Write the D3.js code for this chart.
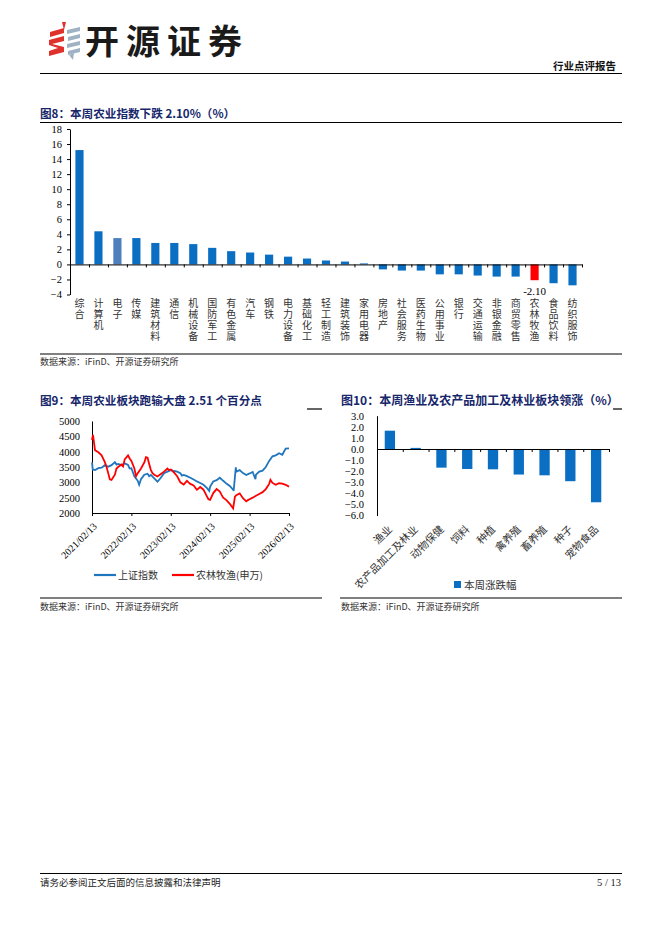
<!DOCTYPE html>
<html>
<head>
<meta charset="utf-8">
<script src="https://cdn.jsdelivr.net/npm/d3@7"></script>
<style>
  body { margin: 0; background: #fff; }
  svg { display: block; }
</style>
</head>
<body>
<div id="page"></div>
<script>
// Fig 8: weekly change by industry (%)
const industryNames = ['综合', '计算机', '电子', '传媒', '建筑材料', '通信', '机械设备', '国防军工', '有色金属', '汽车',
  '钢铁', '电力设备', '基础化工', '轻工制造', '建筑装饰', '家用电器', '房地产', '社会服务', '医药生物', '公用事业',
  '银行', '交通运输', '非银金融', '商贸零售', '农林牧渔', '食品饮料', '纺织服饰'];
const industryChange = [15.2, 4.4, 3.5, 3.5, 2.85, 2.85, 2.7, 2.2, 1.76, 1.58,
  1.3, 1.03, 0.78, 0.52, 0.38, 0.13, -0.66, -0.82, -0.82, -1.32,
  -1.32, -1.48, -1.62, -1.62, -2.10, -2.5, -2.78];
const industryTicks = [18, 16, 14, 12, 10, 8, 6, 4, 2, 0, -2, -4];

// Fig 9: SSE composite vs agriculture index
const szDates = ['2021-02-13', '2021-02-20', '2021-03-13', '2021-04-13', '2021-05-13', '2021-06-13', '2021-07-13', '2021-08-13',
  '2021-09-13', '2021-09-28', '2021-10-13', '2021-11-13', '2021-12-13', '2022-01-13', '2022-01-28', '2022-02-13', '2022-03-13',
  '2022-04-13', '2022-04-26', '2022-05-13', '2022-06-13', '2022-07-13', '2022-07-28', '2022-08-13', '2022-09-13', '2022-10-13',
  '2022-11-13', '2022-12-13', '2023-01-13', '2023-02-13', '2023-03-13', '2023-04-13', '2023-05-13', '2023-05-28', '2023-06-13',
  '2023-07-13', '2023-08-13', '2023-09-13', '2023-10-13', '2023-11-13', '2023-12-13', '2024-01-13', '2024-02-05', '2024-02-13',
  '2024-03-13', '2024-04-13', '2024-05-13', '2024-06-13', '2024-07-13', '2024-08-13', '2024-09-13', '2024-09-18', '2024-10-08',
  '2024-10-13', '2024-11-13', '2024-12-13', '2025-01-13', '2025-02-13', '2025-03-13', '2025-04-08', '2025-04-13', '2025-05-13',
  '2025-06-13', '2025-07-13', '2025-08-13', '2025-09-13', '2025-10-13', '2025-11-13', '2025-12-13', '2026-01-13', '2026-02-13'];
const szValues = [3650, 3420, 3400, 3460, 3480, 3560, 3510, 3560,
  3660, 3580, 3600, 3560, 3620, 3570, 3450, 3460, 3200,
  3050, 2920, 3100, 3250, 3280, 3200, 3240, 3130, 3020,
  3150, 3300, 3350, 3400, 3370, 3350, 3300, 3220, 3240,
  3200, 3150, 3090, 3030, 2980, 2920, 2820, 2720, 2860,
  3030, 3070, 3150, 3050, 2960, 2880, 2760, 2720, 3490,
  3350, 3400, 3300, 3240, 3290, 3340, 3100, 3250, 3350,
  3380, 3500, 3700, 3850, 3880, 3950, 3900, 4100, 4110];
const nlDates = ['2021-02-13', '2021-02-22', '2021-03-13', '2021-04-13', '2021-05-13', '2021-06-13', '2021-06-28', '2021-07-13',
  '2021-07-28', '2021-08-13', '2021-09-13', '2021-09-28', '2021-10-13', '2021-11-13', '2021-11-28', '2021-12-13', '2022-01-13',
  '2022-01-28', '2022-02-13', '2022-03-13', '2022-03-28', '2022-04-13', '2022-05-13', '2022-06-13', '2022-06-28', '2022-07-13',
  '2022-07-28', '2022-08-13', '2022-08-28', '2022-09-13', '2022-10-13', '2022-11-13', '2022-12-13', '2023-01-13', '2023-01-28',
  '2023-02-13', '2023-03-13', '2023-04-13', '2023-04-28', '2023-05-13', '2023-06-13', '2023-07-13', '2023-07-28', '2023-08-13',
  '2023-09-13', '2023-10-13', '2023-10-28', '2023-11-13', '2023-12-13', '2024-01-13', '2024-01-28', '2024-02-13', '2024-03-13',
  '2024-04-13', '2024-05-13', '2024-05-28', '2024-06-13', '2024-07-13', '2024-08-13', '2024-09-13', '2024-09-30', '2024-10-13',
  '2024-11-13', '2024-12-13', '2025-01-13', '2025-01-28', '2025-02-13', '2025-03-13', '2025-04-13', '2025-05-13', '2025-06-13',
  '2025-07-13', '2025-08-13', '2025-08-25', '2025-09-13', '2025-10-13', '2025-11-13', '2025-12-13', '2026-01-13', '2026-02-13'];
const nlValues = [4380, 4550, 4050, 3980, 3880, 3650, 3500, 3300,
  3100, 3080, 3250, 3450, 3500, 3580, 3520, 3750, 3880,
  3780, 3700, 3450, 3200, 3300, 3450, 3650, 3820, 3800,
  3600, 3400, 3300, 3250, 3190, 3270, 3350, 3450, 3400,
  3420, 3330, 3200, 3100, 3000, 2930, 3050, 3000, 2950,
  2900, 2760, 2800, 2850, 2760, 2550, 2450, 2430, 2650,
  2780, 2700, 2600, 2500, 2420, 2300, 2150, 2530, 2580,
  2640, 2480, 2380, 2420, 2450, 2500, 2560, 2620, 2680,
  2780, 2950, 3080, 2980, 2920, 2970, 2960, 2920, 2860];
const yearTicks = ['2021-02-13', '2022-02-13', '2023-02-13', '2024-02-13', '2025-02-13', '2026-02-13'];
const indexTicks = [2000, 2500, 3000, 3500, 4000, 4500, 5000];

// Fig 10: sub-sector weekly change (%)
const subNames = ['渔业', '农产品加工及林业', '动物保健', '饲料', '种植', '禽养殖', '畜养殖', '种子', '宠物食品'];
const subChange = [1.65, 0.1, -1.68, -1.8, -1.83, -2.3, -2.37, -2.9, -4.8];
const subTicks = [3, 2, 1, 0, -1, -2, -3, -4, -5, -6];

const CJK = '"Noto Sans CJK SC", sans-serif';
const SERIF = '"Liberation Serif", "Times New Roman", serif';
const NAVY = '#17276b';
const BAR = '#0a6ec2';

const svg = d3.select('#page').append('svg')
  .attr('width', 662)
  .attr('height', 936);

// ---------- page header ----------
const logo = svg.append('g');
// red zigzag
logo.append('path')
  .attr('d', 'M62,22 L66,22 L64,30 Z M50,32 L64,28 L64,33 L50,37 Z M49,40 L64,36 L64,41 L52,44 L64,47 L64,52 L49,56 L49,51 L58,48 L49,45 Z')
  .attr('fill', '#e0322c');
// grey-blue stripes
[27, 34, 41, 48].forEach((y, i) => {
  logo.append('path')
    .attr('d', `M${67 + (i % 2)},${y + 3} L${80},${y} L${80},${y + 4} L${67 + (i % 2)},${y + 7} Z`)
    .attr('fill', '#9fb3c4');
});
logo.append('path').attr('d', 'M69,55 L74,53 L73,60 Z').attr('fill', '#9fb3c4');

svg.append('text')
  .attr('x', 85).attr('y', 54)
  .style('font-family', CJK).style('font-weight', 'bold').style('font-size', '34px')
  .style('letter-spacing', '7px')
  .attr('fill', '#1a1a1a')
  .text('开源证券');

svg.append('text')
  .attr('x', 616).attr('y', 70)
  .attr('text-anchor', 'end')
  .style('font-family', CJK).style('font-weight', 'bold').style('font-size', '10.5px')
  .attr('fill', '#111')
  .text('行业点评报告');

svg.append('line').attr('x1', 40).attr('x2', 622).attr('y1', 73.5).attr('y2', 73.5)
  .attr('stroke', '#000').attr('stroke-width', 1.2);

// ---------- footer ----------
svg.append('line').attr('x1', 40).attr('x2', 622).attr('y1', 873.5).attr('y2', 873.5)
  .attr('stroke', '#000').attr('stroke-width', 1);
svg.append('text')
  .attr('x', 40).attr('y', 886)
  .style('font-family', CJK).style('font-size', '9.5px').attr('fill', '#222')
  .text('请务必参阅正文后面的信息披露和法律声明');
svg.append('text')
  .attr('x', 621).attr('y', 886).attr('text-anchor', 'end')
  .style('font-family', SERIF).style('font-size', '10.5px').attr('fill', '#222')
  .text('5 / 13');

// helper for chart titles and sources
function title(x, y, txt, size) {
  svg.append('text')
    .attr('x', x).attr('y', y)
    .style('font-family', CJK).style('font-weight', 'bold').style('font-size', size + 'px')
    .attr('fill', NAVY)
    .text(txt);
}
function source(x, y) {
  svg.append('text')
    .attr('x', x).attr('y', y)
    .style('font-family', CJK).style('font-size', '9px').attr('fill', '#333')
    .text('数据来源：iFinD、开源证券研究所');
}

// ================= Fig 8 =================
title(40, 118, '图8：本周农业指数下跌 2.10%（%）', 11.6);
svg.append('line').attr('x1', 40).attr('x2', 622).attr('y1', 122.5).attr('y2', 122.5)
  .attr('stroke', '#000').attr('stroke-width', 1.2);
svg.append('line').attr('x1', 40).attr('x2', 622).attr('y1', 354).attr('y2', 354)
  .attr('stroke', '#000').attr('stroke-width', 1);
source(40, 365);

const x8 = d3.scaleBand().domain(industryNames).range([70, 582]).paddingInner(0.57).paddingOuter(0.285);
const y8 = d3.scaleLinear().domain([-4, 18]).range([294.5, 129]);

const g8 = svg.append('g');
g8.selectAll('rect.bar')
  .data(industryNames)
  .enter()
  .append('rect')
  .attr('class', 'bar')
  .attr('x', d => x8(d))
  .attr('width', x8.bandwidth())
  .attr('y', (d, i) => y8(Math.max(0, industryChange[i])))
  .attr('height', (d, i) => Math.abs(y8(industryChange[i]) - y8(0)))
  .attr('fill', d => d === '农林牧渔' ? '#ff0000' : d === '电子' ? '#4d7fbe' : BAR);

// y axis
const yAxis8 = g8.append('g')
  .attr('transform', 'translate(70,0)')
  .call(d3.axisLeft(y8).tickValues(industryTicks).tickSize(3).tickSizeOuter(0).tickFormat(d3.format('d')));
yAxis8.select('.domain').attr('stroke', '#000');
yAxis8.selectAll('text').style('font-family', SERIF).style('font-size', '10.5px').attr('fill', '#000').attr('x', -8);

// zero line with category ticks
const xAxis8 = g8.append('g')
  .attr('transform', `translate(0,${y8(0)})`)
  .call(d3.axisBottom(d3.scaleLinear().domain([0, industryNames.length]).range([70, 582]))
    .tickValues(d3.range(industryNames.length + 1)).tickSize(3).tickSizeOuter(0).tickFormat(''));
xAxis8.select('.domain').attr('stroke', '#000');

// vertical category labels (one char per line)
g8.selectAll('text.cat')
  .data(industryNames)
  .enter()
  .append('text')
  .attr('class', 'cat')
  .attr('x', d => x8(d) + x8.bandwidth() / 2)
  .attr('y', 298.5)
  .style('writing-mode', 'vertical-rl')
  .style('text-orientation', 'upright')
  .style('letter-spacing', '1px')
  .style('font-family', CJK).style('font-size', '10px').attr('fill', '#333')
  .text(d => d);

// value label for agriculture
const agIdx = industryNames.indexOf('农林牧渔');
g8.append('text')
  .attr('x', x8('农林牧渔') + x8.bandwidth() / 2)
  .attr('y', y8(industryChange[agIdx]) + 15)
  .attr('text-anchor', 'middle')
  .style('font-family', SERIF).style('font-size', '11px').attr('fill', '#000')
  .text(industryChange[agIdx].toFixed(2));

// ================= Fig 9 =================
title(40, 405, '图9：本周农业板块跑输大盘 2.51 个百分点', 11.6);
svg.append('line').attr('x1', 307).attr('x2', 322).attr('y1', 409).attr('y2', 409)
  .attr('stroke', '#000').attr('stroke-width', 1.2);
svg.append('line').attr('x1', 40).attr('x2', 322).attr('y1', 598).attr('y2', 598)
  .attr('stroke', '#000').attr('stroke-width', 1);
source(40, 610);

const parseDate = d3.timeParse('%Y-%m-%d');
const x9 = d3.scaleTime().domain([parseDate('2021-02-13'), parseDate('2026-02-13')]).range([92, 289]);
const y9 = d3.scaleLinear().domain([2000, 5000]).range([513, 421]);

const g9 = svg.append('g');
const yAxis9 = g9.append('g')
  .attr('transform', 'translate(92,0)')
  .call(d3.axisLeft(y9).tickValues(indexTicks).tickSize(0).tickSizeOuter(0).tickFormat(d3.format('d')));
yAxis9.select('.domain').attr('stroke', '#000');
yAxis9.selectAll('text').style('font-family', SERIF).style('font-size', '10.5px').attr('fill', '#000').attr('x', -12);

const xAxis9 = g9.append('g')
  .attr('transform', 'translate(0,513)')
  .call(d3.axisBottom(x9).tickValues(yearTicks.map(parseDate)).tickSize(3).tickSizeOuter(0)
    .tickFormat(d3.timeFormat('%Y/%m/%d')));
xAxis9.select('.domain').attr('stroke', '#000');
xAxis9.selectAll('text')
  .style('font-family', SERIF).style('font-size', '10px').attr('fill', '#000')
  .attr('text-anchor', 'end')
  .attr('dy', null)
  .attr('y', 0)
  .attr('transform', 'translate(5,14) rotate(-45)');

const line9 = d3.line()
  .x(d => x9(d.date))
  .y(d => y9(d.value));

const szData = szDates.map((d, i) => ({ date: parseDate(d), value: szValues[i] }));
const nlData = nlDates.map((d, i) => ({ date: parseDate(d), value: nlValues[i] }));

g9.append('path')
  .datum(szData)
  .attr('fill', 'none')
  .attr('stroke', '#1f75be')
  .attr('stroke-width', 1.8)
  .attr('d', line9);

g9.append('path')
  .datum(nlData)
  .attr('fill', 'none')
  .attr('stroke', '#ff0000')
  .attr('stroke-width', 1.8)
  .attr('d', line9);

// legend
const legend9 = [
  { label: '上证指数', color: '#1f75be', x: 94 },
  { label: '农林牧渔(申万)', color: '#ff0000', x: 172 }
];
legend9.forEach(d => {
  g9.append('line').attr('x1', d.x).attr('x2', d.x + 22).attr('y1', 575).attr('y2', 575)
    .attr('stroke', d.color).attr('stroke-width', 2.2);
  g9.append('text').attr('x', d.x + 24).attr('y', 579)
    .style('font-family', CJK).style('font-size', '10px').attr('fill', '#333')
    .text(d.label);
});

// ================= Fig 10 =================
title(341, 405, '图10：本周渔业及农产品加工及林业板块领涨（%）', 12);
svg.append('line').attr('x1', 613).attr('x2', 622).attr('y1', 409).attr('y2', 409)
  .attr('stroke', '#000').attr('stroke-width', 1.2);
svg.append('line').attr('x1', 340).attr('x2', 622).attr('y1', 598).attr('y2', 598)
  .attr('stroke', '#000').attr('stroke-width', 1);
source(341, 610);

const x10 = d3.scaleBand().domain(subNames).range([377, 609]).paddingInner(0.6).paddingOuter(0.3);
const y10 = d3.scaleLinear().domain([-6, 3]).range([515.6, 415.7]);

const g10 = svg.append('g');
g10.selectAll('rect.bar')
  .data(subNames)
  .enter()
  .append('rect')
  .attr('class', 'bar')
  .attr('x', d => x10(d))
  .attr('width', x10.bandwidth())
  .attr('y', (d, i) => y10(Math.max(0, subChange[i])))
  .attr('height', (d, i) => Math.abs(y10(subChange[i]) - y10(0)))
  .attr('fill', BAR);

const yAxis10 = g10.append('g')
  .attr('transform', 'translate(377,0)')
  .call(d3.axisLeft(y10).tickValues(subTicks).tickSize(0).tickSizeOuter(0).tickFormat(d3.format('.1f')));
yAxis10.select('.domain').attr('stroke', '#000');
yAxis10.selectAll('text').style('font-family', SERIF).style('font-size', '10.5px').attr('fill', '#000').attr('x', -13);

const xAxis10 = g10.append('g')
  .attr('transform', `translate(0,${y10(0)})`)
  .call(d3.axisBottom(d3.scaleLinear().domain([0, subNames.length]).range([377, 609]))
    .tickValues(d3.range(subNames.length + 1)).tickSize(3).tickSizeOuter(0).tickFormat(''));
xAxis10.select('.domain').attr('stroke', '#000');

subNames.forEach(name => {
  g10.append('text')
    .attr('transform', `translate(${x10(name) + x10.bandwidth() / 2 + 3},${530}) rotate(-45)`)
    .attr('text-anchor', 'end')
    .style('font-family', CJK).style('font-size', '10.5px').attr('fill', '#333')
    .text(name);
});

// legend
g10.append('rect').attr('x', 454).attr('y', 581).attr('width', 7).attr('height', 7).attr('fill', BAR);
g10.append('text').attr('x', 464).attr('y', 588.5)
  .style('font-family', CJK).style('font-size', '10.5px').attr('fill', '#333')
  .text('本周涨跌幅');
</script>
</body>
</html>
